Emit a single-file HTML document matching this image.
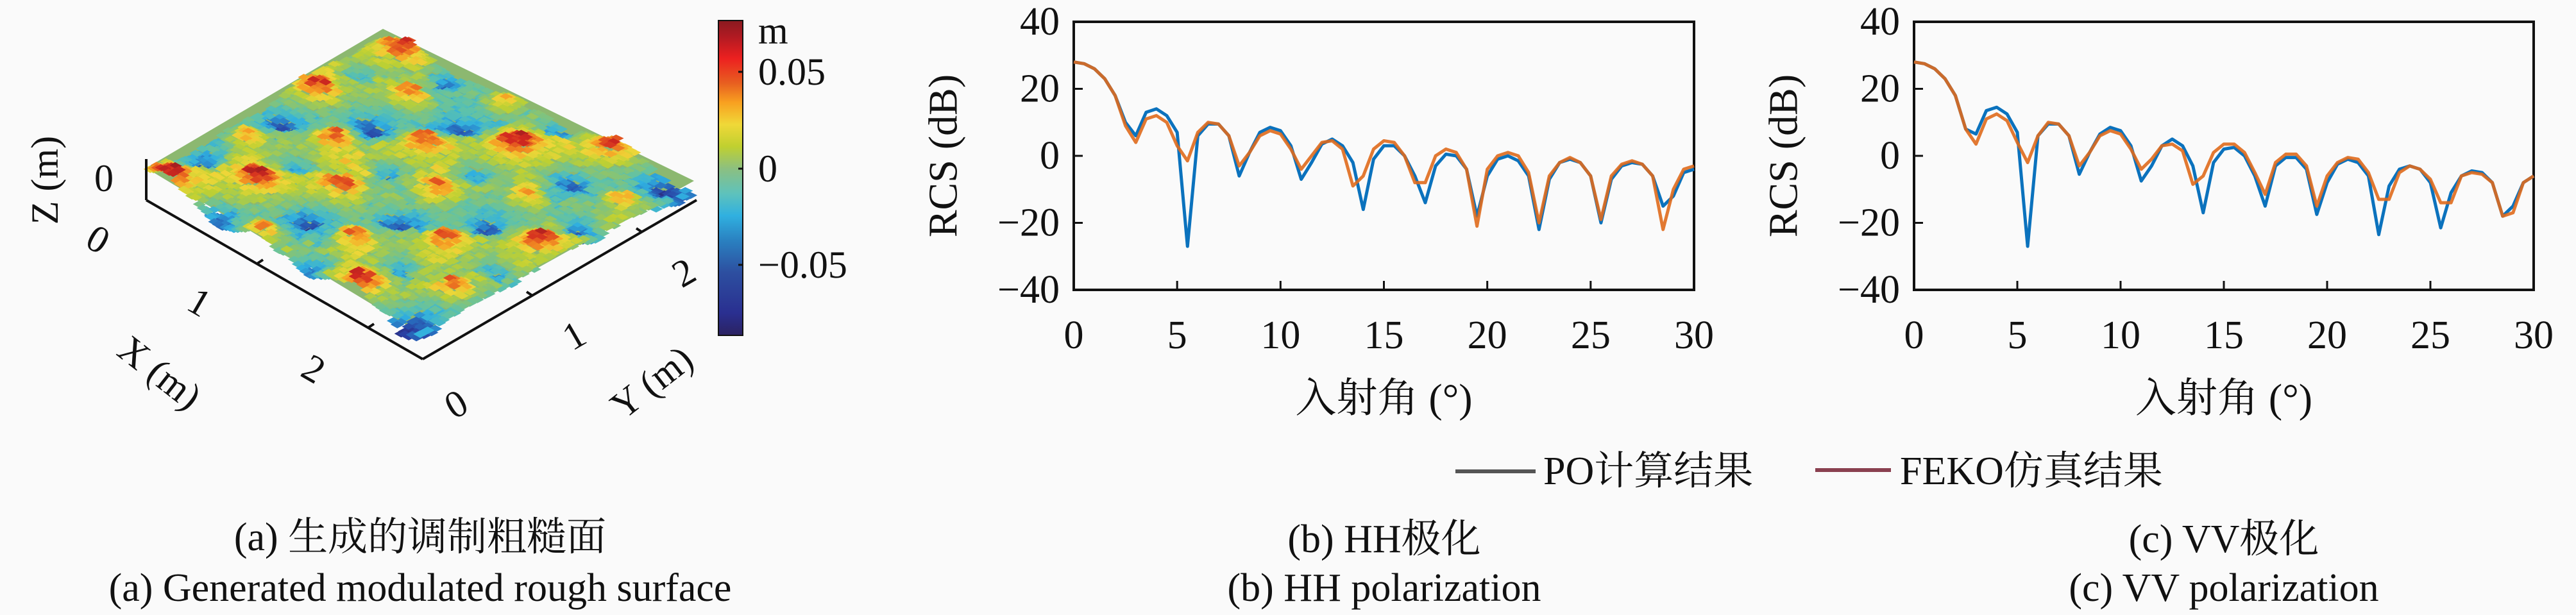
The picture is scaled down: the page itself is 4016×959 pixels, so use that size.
<!DOCTYPE html>
<html><head><meta charset="utf-8">
<style>
html,body{margin:0;padding:0;background:#fafafa;}
#root{position:relative;width:4016px;height:959px;overflow:hidden;background:#fafafa;font-family:"Liberation Serif","DejaVu Serif","Noto Serif CJK SC",serif;color:#111;}
svg{position:absolute;left:0;top:0;}
svg text{font-family:"Liberation Serif","DejaVu Serif","Noto Serif CJK SC",serif;fill:#111;}
</style></head>
<body>
<div id="root">
<svg id="svg" width="4016" height="959" viewBox="0 0 4016 959" font-family="Liberation Serif, Noto Serif CJK SC, serif">
<defs>
<linearGradient id="cbar" x1="0" y1="1" x2="0" y2="0">
<stop offset="0" stop-color="#2b2260"/>
<stop offset="0.07" stop-color="#2a2f90"/>
<stop offset="0.2" stop-color="#2d4fa0"/>
<stop offset="0.3" stop-color="#2a80c0"/>
<stop offset="0.38" stop-color="#30b0e0"/>
<stop offset="0.45" stop-color="#5ec2bc"/>
<stop offset="0.53" stop-color="#8cc080"/>
<stop offset="0.6" stop-color="#c0d030"/>
<stop offset="0.67" stop-color="#f0d838"/>
<stop offset="0.74" stop-color="#f8a020"/>
<stop offset="0.8" stop-color="#e86020"/>
<stop offset="0.88" stop-color="#ec2020"/>
<stop offset="0.95" stop-color="#b01a22"/>
<stop offset="1" stop-color="#8a1a20"/>
</linearGradient>
</defs>
<polygon points="597,45 228,262 655,520 1082,282" fill="#8cb870"/>
<g id="surface"></g>
<g stroke="#111" stroke-width="4" fill="none">
<line x1="228" y1="248" x2="228" y2="312"/>
<line x1="228" y1="312" x2="659" y2="560"/>
<line x1="659" y1="560" x2="1086" y2="312"/>
<line x1="401" y1="411" x2="410" y2="405"/>
<line x1="574" y1="511" x2="583" y2="505"/>
<line x1="830" y1="461" x2="821" y2="455"/>
<line x1="1001" y1="362" x2="992" y2="356"/>
</g>
<g font-size="60">
<text x="70" y="281" text-anchor="middle" dominant-baseline="central" transform="rotate(-90 70 281)">Z (m)</text>
<text x="162" y="278" text-anchor="middle" dominant-baseline="central">0</text>
<text x="153" y="373" text-anchor="middle" dominant-baseline="central" transform="rotate(30 153 373)">0</text>
<text x="311" y="471" text-anchor="middle" dominant-baseline="central" transform="rotate(30 311 471)">1</text>
<text x="489" y="575" text-anchor="middle" dominant-baseline="central" transform="rotate(30 489 575)">2</text>
<text x="249" y="581" text-anchor="middle" dominant-baseline="central" transform="rotate(38 249 581)">X (m)</text>
<text x="711" y="630" text-anchor="middle" dominant-baseline="central" transform="rotate(-30 711 630)">0</text>
<text x="895" y="523" text-anchor="middle" dominant-baseline="central" transform="rotate(-30 895 523)">1</text>
<text x="1066" y="425" text-anchor="middle" dominant-baseline="central" transform="rotate(-30 1066 425)">2</text>
<text x="1016" y="596" text-anchor="middle" dominant-baseline="central" transform="rotate(-38 1016 596)">Y (m)</text>
</g>
<g>
<rect x="1120" y="32" width="38" height="491" fill="url(#cbar)" stroke="#111" stroke-width="2"/>
<g stroke="#111" stroke-width="3"><line x1="1151" y1="112" x2="1158" y2="112"/><line x1="1151" y1="263" x2="1158" y2="263"/><line x1="1151" y1="413" x2="1158" y2="413"/></g>
<g font-size="60">
<text x="1182" y="48" dominant-baseline="central">m</text>
<text x="1182" y="112" dominant-baseline="central">0.05</text>
<text x="1182" y="263" dominant-baseline="central">0</text>
<text x="1182" y="413" dominant-baseline="central">−0.05</text>
</g>
</g>
<g id="chartB"></g>
<g id="chartC"></g>
<g font-size="62">
<line x1="2269" y1="735" x2="2394" y2="735" stroke="#555" stroke-width="6"/>
<text x="2406" y="735" dominant-baseline="central">PO计算结果</text>
<line x1="2830" y1="733" x2="2948" y2="733" stroke="#8a4050" stroke-width="6"/>
<text x="2962" y="735" dominant-baseline="central">FEKO仿真结果</text>
</g>
<g font-size="62" text-anchor="middle">
<text x="655" y="838" dominant-baseline="central">(a) 生成的调制粗糙面</text>
<text x="655" y="917" dominant-baseline="central">(a) Generated modulated rough surface</text>
<text x="2158" y="841" dominant-baseline="central">(b) HH极化</text>
<text x="2158" y="917" dominant-baseline="central">(b) HH polarization</text>
<text x="3467" y="841" dominant-baseline="central">(c) VV极化</text>
<text x="3467" y="917" dominant-baseline="central">(c) VV polarization</text>
</g>
</svg>
</div>
<script>
const angles = [0,0.5,1,1.5,2,2.5,3,3.5,4,4.5,5,5.5,6,6.5,7,7.5,8,8.5,9,9.5,10,10.5,11,11.5,12,12.5,13,13.5,14,14.5,15,15.5,16,16.5,17,17.5,18,18.5,19,19.5,20,20.5,21,21.5,22,22.5,23,23.5,24,24.5,25,25.5,26,26.5,27,27.5,28,28.5,29,29.5,30];
const hhPO = [28,27.5,26,23,18,10,6,13,14,12,7,-27,6,9.5,9.5,6,-6,1,7,8.5,7.5,3,-7,-2,3.5,5,3,-2,-16,-1,3,3,0,-6,-14,-3,0.5,0,-4,-18,-6,-1,0,-1.5,-6,-22,-7,-2,-1,-2,-6,-20,-7,-3,-2,-2.5,-6,-15,-12,-5,-4];
const hhFEKO = [28,27.5,26,23,18,9,4,11,12,10,3,-1.5,7,10,9.5,6,-3,1,6,7.5,6.5,2,-4,0,4,4.5,2,-9,-6,2,4.5,4,0,-8,-8,0,2,1,-4,-21,-4,0,1,0,-5,-20,-6,-2,-0.5,-2,-6,-19,-6,-2.5,-1.5,-2.5,-6,-22,-10,-4,-3];
const vvPO = [28,27.5,26,23,18,8,6.5,13.5,14.5,12.5,7,-27,6,9.5,9.5,6,-5.5,1,6.5,8.5,7.5,3,-7.5,-3,3,5,3,-3,-17,-2,2,2.5,0,-6,-15,-3,-0.5,-0.5,-4,-17.5,-8,-2.5,-1,-2,-6,-23.5,-9,-4,-3,-4,-8,-21.5,-11,-6,-4.5,-5,-8,-18,-15,-8,-6];
const vvFEKO = [28,27.5,26,23,18,8,3.5,11,12.5,10.5,4,-2,6,10,9.5,6,-3,1,6,7.5,6.5,2,-4,-1,3,3.5,1.5,-8.5,-6,1,3.5,3.5,1,-5,-11.5,-2,0.5,0.5,-3,-15,-6,-2,-0.5,-1,-5,-13,-13,-5,-3,-4,-7,-14,-14,-6,-5,-5.5,-8,-18,-17,-8,-6];
const xTicks = [0,5,10,15,20,25,30];
const yTicks = [-40,-20,0,20,40];

const NS='http://www.w3.org/2000/svg';
function mk(tag, attrs, parent){const e=document.createElementNS(NS,tag);for(const k in attrs)e.setAttribute(k,attrs[k]);parent.appendChild(e);return e;}

function drawChart(g, L, R, T, B, po, feko, prefix){
  const sx = v => L + (v-0)/(30-0)*(R-L);
  const sy = v => B - (v-(-40))/(80)*(B-T);
  const box = mk('rect',{x:L,y:T,width:R-L,height:B-T,fill:'none',stroke:'#111','stroke-width':4},g);
  
  
  xTicks.forEach(t=>{
    const l=mk('line',{x1:sx(t),x2:sx(t),y1:B,y2:B-14,stroke:'#111','stroke-width':3},g);
    
    
    const tx=mk('text',{x:sx(t),y:523,'text-anchor':'middle','dominant-baseline':'central','font-size':62},g);
    tx.textContent=t;
    
    
  });
  yTicks.forEach(t=>{
    const l=mk('line',{x1:L,x2:L+14,y1:sy(t),y2:sy(t),stroke:'#111','stroke-width':3},g);
    
    
    const tx=mk('text',{x:L-22,y:sy(t),'text-anchor':'end','dominant-baseline':'central','font-size':62},g);
    tx.textContent=t<0?'−'+(-t):t;
    
    
  });
  const yl=mk('text',{x:L-204,y:(T+B)/2,'text-anchor':'middle','dominant-baseline':'central','font-size':64,transform:`rotate(-90 ${L-204} ${(T+B)/2})`},g);
  yl.textContent='RCS (dB)';
  
  
  const xl=mk('text',{x:(L+R)/2,y:621,'text-anchor':'middle','dominant-baseline':'central','font-size':64},g);
  xl.textContent='入射角 (°)';
  
  
  const pts = arr => arr.map((v,i)=>sx(angles[i]).toFixed(1)+','+sy(v).toFixed(1)).join(' ');
  const p1=mk('polyline',{points:pts(po),fill:'none',stroke:'#0b72bd','stroke-width':5,'stroke-linejoin':'round'},g);
  
  
  const p2=mk('polyline',{points:pts(feko),fill:'none',stroke:'#df6a1c','stroke-width':5,'stroke-linejoin':'round','stroke-opacity':0.9},g);
  
  
}
drawChart(document.getElementById('chartB'),1674,2641,34,452,hhPO,hhFEKO,'hh');
drawChart(document.getElementById('chartC'),2984,3950,34,452,vvPO,vvFEKO,'vv');

// surface texture (decorative)
(function(){
  const g=document.getElementById('surface');
  const T=[597,62],Lc=[228,275],B=[655,515],Rc=[1082,290];
  const N=72;
  function P(u,v){
    const x=T[0]+u*(Lc[0]-T[0])+v*(Rc[0]-T[0])+u*v*(B[0]-Lc[0]-Rc[0]+T[0]);
    const y=T[1]+u*(Lc[1]-T[1])+v*(Rc[1]-T[1])+u*v*(B[1]-Lc[1]-Rc[1]+T[1]);
    return [x,y];
  }
  function hash(i,j){let h=Math.sin(i*127.1+j*311.7)*43758.5453;return h-Math.floor(h);}
  const stops=[[0,[43,34,96]],[0.12,[42,60,160]],[0.25,[40,110,190]],[0.35,[48,176,224]],[0.45,[94,194,170]],[0.55,[140,196,110]],[0.63,[190,208,50]],[0.7,[238,214,56]],[0.77,[246,160,36]],[0.84,[230,96,32]],[0.91,[210,40,32]],[1,[140,26,32]]];
  function cmap(t){t=Math.max(0,Math.min(1,t));for(let k=1;k<stops.length;k++){if(t<=stops[k][0]){const a=stops[k-1],b=stops[k];const f=(t-a[0])/(b[0]-a[0]);return 'rgb('+a[1].map((c,m)=>Math.round(c+(b[1][m]-c)*f)).join(',')+')';}}return 'rgb(140,26,32)';}
  let s='';
  for(let i=0;i<N;i++){for(let j=0;j<N;j++){
    const u=i/N,v=j/N,du=1/N;
    const big=Math.sin(u*20+1)*Math.sin(v*18+0.5);
    let h=0.52+0.3*big*Math.abs(big)+0.1*Math.sin(u*7+v*11)+0.12*(hash(Math.floor(i/6),Math.floor(j/6))-0.5)+0.14*(hash(i,j)-0.5);
    const dz=(h-0.5)*60;
    const a=P(u-du*0.3,v-du*0.3),b=P(u+du*1.5,v-du*0.3),c=P(u+du*1.5,v+du*1.5),d=P(u-du*0.3,v+du*1.5);
    s+=`<polygon points="${a[0].toFixed(1)},${(a[1]-dz).toFixed(1)} ${b[0].toFixed(1)},${(b[1]-dz).toFixed(1)} ${c[0].toFixed(1)},${(c[1]-dz).toFixed(1)} ${d[0].toFixed(1)},${(d[1]-dz).toFixed(1)}" fill="${cmap(h)}"/>`;
  }}
  g.innerHTML=s;
})();
</script>
</body></html>
